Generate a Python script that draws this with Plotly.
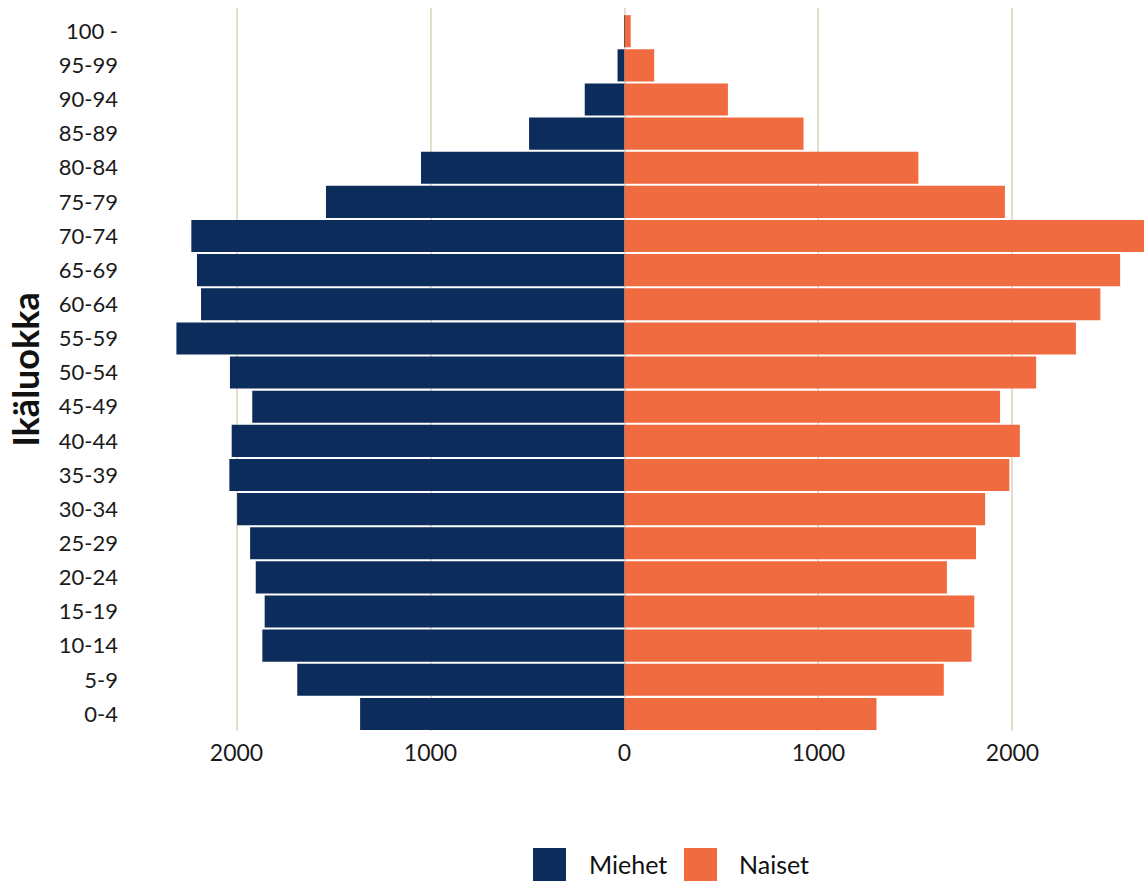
import plotly.graph_objects as go

age_groups = ["0-4", "5-9", "10-14", "15-19", "20-24", "25-29", "30-34", "35-39",
              "40-44", "45-49", "50-54", "55-59", "60-64", "65-69", "70-74",
              "75-79", "80-84", "85-89", "90-94", "95-99", "100 -"]

men = [1363, 1687, 1867, 1855, 1901, 1930, 1997, 2037, 2025, 1919, 2034, 2310,
       2183, 2204, 2233, 1539, 1049, 492, 205, 36, 2]

women = [1299, 1646, 1789, 1803, 1662, 1812, 1859, 1984, 2038, 1936, 2122, 2327,
         2453, 2555, 2720, 1961, 1515, 923, 533, 153, 32]

tick_values = [-2000, -1000, 0, 1000, 2000]
tick_labels = ["2000", "1000", "0", "1000", "2000"]

series_names = ["Miehet", "Naiset"]
colors = ["#0c2c5b", "#f06b3f"]

FONT = "Lato, 'Open Sans', sans-serif"

fig = go.Figure()
fig.add_trace(go.Bar(
    y=age_groups, x=[-v for v in men], orientation="h", name=series_names[0],
    marker=dict(color=colors[0], line=dict(width=0)),
    customdata=men, hovertemplate="%{y}: %{customdata}<extra>Miehet</extra>",
    showlegend=False,
))
fig.add_trace(go.Bar(
    y=age_groups, x=women, orientation="h", name=series_names[1],
    marker=dict(color=colors[1], line=dict(width=0)),
    hovertemplate="%{y}: %{x}<extra>Naiset</extra>",
    showlegend=False,
))

W, H = 1144, 881
plot_left, plot_right, plot_top, plot_bottom = 125, 1144, 8, 731


def px_to_paper_x(px):
    return (px - plot_left) / (plot_right - plot_left)


def px_to_paper_y(py):
    return (plot_bottom - py) / (plot_bottom - plot_top)


# custom legend (large squares, as in the reference)
legend_items = [
    (series_names[0], colors[0], 533, 566, 587),
    (series_names[1], colors[1], 684, 717, 737),
]
shapes = []
annotations = []
for name, col, x0, x1, tx in legend_items:
    shapes.append(dict(type="rect", xref="paper", yref="paper",
                       x0=px_to_paper_x(x0), x1=px_to_paper_x(x1),
                       y0=px_to_paper_y(881), y1=px_to_paper_y(848),
                       line=dict(width=0), fillcolor=col, layer="above"))
    annotations.append(dict(xref="paper", yref="paper", x=px_to_paper_x(tx),
                            y=px_to_paper_y(864), xanchor="left", yanchor="middle",
                            text=name, showarrow=False,
                            font=dict(family=FONT, size=25, color="#111111")))

fig.update_layout(
    width=W, height=H,
    margin=dict(l=plot_left, r=W - plot_right, t=plot_top, b=H - plot_bottom),
    barmode="relative",
    bargap=0.06,
    plot_bgcolor="white",
    paper_bgcolor="white",
    font=dict(family=FONT, size=21, color="#1a1a1a"),
    showlegend=False,
    shapes=shapes,
    annotations=annotations,
    xaxis=dict(
        range=[-2575, 2678],
        tickvals=tick_values, ticktext=tick_labels,
        showgrid=True, gridcolor="#e3dfcf", gridwidth=2,
        zeroline=False, showline=False, ticks="",
        tickfont=dict(size=23, color="#1a1a1a"),
        ticklabelstandoff=6,
        fixedrange=True,
    ),
    yaxis=dict(
        categoryorder="array", categoryarray=age_groups,
        showgrid=False, zeroline=False, showline=False, ticks="",
        tickfont=dict(size=22, color="#1a1a1a"),
        ticklabelstandoff=6,
        title=dict(text="<b>Ikäluokka</b>", font=dict(size=36, color="#111111"), standoff=8),
        range=[-0.5, 20.68],
    ),
)

fig.write_html("out.html")
